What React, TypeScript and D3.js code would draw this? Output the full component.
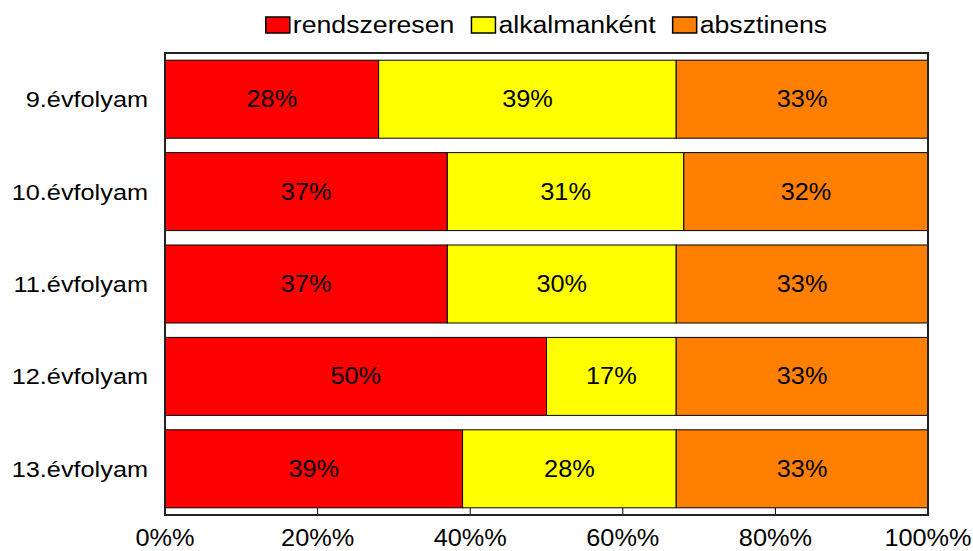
import React, { useEffect, useRef } from "react";
import * as d3 from "d3";

const categories = ["9.évfolyam", "10.évfolyam", "11.évfolyam", "12.évfolyam", "13.évfolyam"];
const seriesNames = ["rendszeresen", "alkalmanként", "absztinens"];
const rendszeresen = [28, 37, 37, 50, 39];
const alkalmankent = [39, 31, 30, 17, 28];
const absztinens = [33, 32, 33, 33, 33];
const tickValues = [0, 20, 40, 60, 80, 100];
const tickLabels = ["0%%", "20%%", "40%%", "60%%", "80%%", "100%%"];
const colors = ["#FF0000", "#FFFF00", "#FF8000"];

const W = 973, H = 551;
const FONT = "Liberation Sans, Arial, sans-serif";

export default function App() {
  const ref = useRef<SVGSVGElement>(null);
  useEffect(() => {
    const svg = d3.select(ref.current);
    svg.selectAll("*").remove();
    const left = 165, right = 928, top = 53, bottom = 515;
    const x = d3.scaleLinear().domain([0, 100]).range([left, right]);
    const y = d3.scaleBand().domain(categories).range([top, bottom]).paddingInner(0.156).paddingOuter(0.078);

    const stackData = categories.map((c, i) => ({ c, s0: rendszeresen[i], s1: alkalmankent[i], s2: absztinens[i] }));
    const stack = d3.stack<any>().keys(["s0", "s1", "s2"])(stackData);

    svg.append("rect").attr("x", left).attr("y", top).attr("width", right - left).attr("height", bottom - top)
      .attr("fill", "white");

    stack.forEach((layer, si) => {
      svg.append("g").selectAll("rect").data(layer).join("rect")
        .attr("x", (d) => x(d[0]))
        .attr("y", (d) => y((d.data as any).c)!)
        .attr("width", (d) => x(d[1]) - x(d[0]))
        .attr("height", y.bandwidth())
        .attr("fill", colors[si])
        .attr("stroke", "#000")
        .attr("stroke-width", 1);
      svg.append("g").selectAll("text").data(layer).join("text")
        .attr("transform", (d) => `translate(${(x(d[0]) + x(d[1])) / 2},${y((d.data as any).c)! + y.bandwidth() / 2 + 8}) scale(1.1,1)`)
        .attr("text-anchor", "middle")
        .attr("font-family", FONT)
        .attr("font-size", 23)
        .attr("fill", "#000")
        .text((d) => `${d[1] - d[0]}%`);
    });

    svg.append("g").selectAll("line").data(tickValues).join("line")
      .attr("x1", (d) => x(d)).attr("x2", (d) => x(d))
      .attr("y1", bottom).attr("y2", bottom - 7)
      .attr("stroke", "#000").attr("stroke-width", 1);

    svg.append("rect").attr("x", left).attr("y", top).attr("width", right - left).attr("height", bottom - top)
      .attr("fill", "none").attr("stroke", "#222").attr("stroke-width", 2);

    svg.append("g").selectAll("text").data(tickValues).join("text")
      .attr("transform", (d) => `translate(${x(d)},${546}) scale(1.1,1)`)
      .attr("text-anchor", "middle")
      .attr("font-family", FONT).attr("font-size", 23)
      .text((d, i) => tickLabels[i]);

    svg.append("g").selectAll("text").data(categories).join("text")
      .attr("transform", (d) => `translate(${148},${y(d)! + y.bandwidth() / 2 + 8}) scale(1.15,1)`)
      .attr("text-anchor", "end")
      .attr("font-family", FONT).attr("font-size", 22)
      .text((d) => d);

    const canvas = document.createElement("canvas");
    const ctx = canvas.getContext("2d")!;
    const fs = 23, sx = 1.16;
    ctx.font = `${fs}px Liberation Sans, Arial`;
    const sqW = 24, sqH = 16, gapT = 3, gapItem = 17;
    const widths = seriesNames.map((n) => ctx.measureText(n).width * sx);
    const total = widths.reduce((a, w) => a + sqW + gapT + w, 0) + gapItem * (seriesNames.length - 1);
    let cx = (left + right) / 2 - total / 2;
    const lg = svg.append("g");
    seriesNames.forEach((n, i) => {
      lg.append("rect").attr("x", cx).attr("y", 17).attr("width", sqW).attr("height", sqH)
        .attr("fill", colors[i]).attr("stroke", "#000").attr("stroke-width", 1.5);
      lg.append("text").attr("transform", `translate(${cx + sqW + gapT},${33}) scale(${sx},1)`)
        .attr("font-family", FONT).attr("font-size", fs).text(n);
      cx += sqW + gapT + widths[i] + gapItem;
    });
  }, []);
  return (
    <svg ref={ref} width={W} height={H} style={{ position: "absolute", left: 0, top: 0, background: "white" }} />
  );
}
